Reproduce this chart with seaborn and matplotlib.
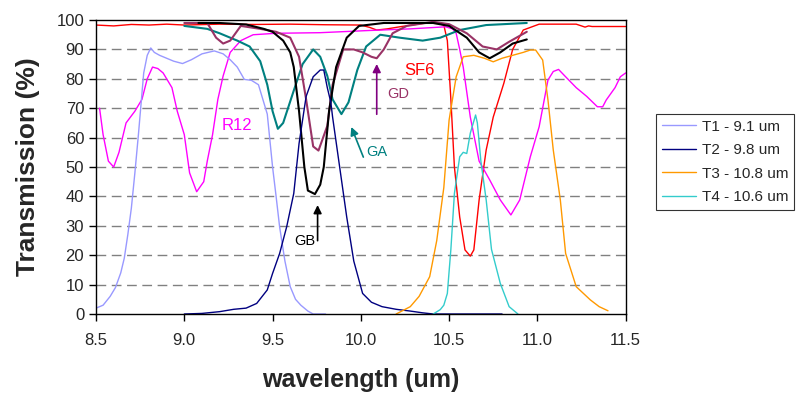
import seaborn as sns
import matplotlib.pyplot as plt

# transmission curves (wavelength in um, transmission in %)
t1_wl = [8.50, 8.54, 8.58, 8.61, 8.64, 8.66, 8.68, 8.70, 8.72, 8.74, 8.77, 8.79, 8.81, 8.83, 8.86,
         8.90, 8.94, 8.99, 9.04, 9.10, 9.17, 9.22, 9.26, 9.30, 9.34, 9.38, 9.42, 9.45, 9.47, 9.50,
         9.52, 9.54, 9.57, 9.60, 9.63, 9.66, 9.70, 9.73, 9.80]
t1 = [2, 3, 6, 9, 14, 19, 27, 36, 48, 61, 82, 88, 90.5, 89, 88,
      87, 86, 85.2, 86.5, 88.5, 89.5, 88.5, 86.5, 84, 79.8, 79.5, 78, 72, 68, 50,
      40, 29.6, 18, 9.3, 5, 3, 1, 0, 0]

t2_wl = [9.00, 9.10, 9.20, 9.28, 9.35, 9.41, 9.47, 9.50, 9.54, 9.58, 9.62, 9.65, 9.69, 9.73, 9.77,
         9.79, 9.81, 9.83, 9.84, 9.88, 9.92, 9.96, 10.01, 10.06, 10.12, 10.20, 10.28, 10.35, 10.41,
         10.60, 10.80]
t2 = [0, 0.2, 0.8, 1.6, 2, 3.6, 8.2, 13.8, 20.6, 29.7, 41, 58, 74, 80.7, 83,
      83, 77, 72, 67, 50, 33, 18, 7, 4, 2.5, 1.6, 1, 0.4, 0,
      0, 0]

t3_wl = [10.20, 10.28, 10.33, 10.39, 10.43, 10.47, 10.50, 10.54, 10.58, 10.64, 10.70, 10.75, 10.80,
         10.86, 10.92, 10.96, 10.99, 11.03, 11.06, 11.09, 11.13, 11.16, 11.22, 11.30, 11.35, 11.40]
t3 = [0, 2.5, 6, 12.7, 25, 43, 66, 80.7, 87.5, 88, 87, 85.8, 87,
      88, 89, 89.8, 89.8, 86.4, 72.8, 55.8, 38.8, 20.6, 9.3, 4.8, 2.5, 1.1]

t4_wl = [10.41, 10.45, 10.47, 10.49, 10.51, 10.53, 10.56, 10.58, 10.60, 10.62, 10.65, 10.66, 10.68,
         10.71, 10.74, 10.79, 10.84, 10.89]
t4 = [0, 1.5, 3, 7, 22, 41, 53.5, 55, 54.6, 61.5, 67.7, 65, 52,
      38.8, 22, 10.4, 2.5, 0]

r12_wl = [8.52, 8.54, 8.57, 8.60, 8.63, 8.65, 8.67, 8.72, 8.76, 8.79, 8.82, 8.85, 8.88, 8.93, 8.96,
          9.00, 9.03, 9.07, 9.11, 9.13, 9.16, 9.19, 9.22, 9.26, 9.32, 9.39, 9.52, 9.77, 10.03, 10.28,
          10.48, 10.52, 10.54, 10.56, 10.58, 10.62, 10.67, 10.73, 10.79, 10.85, 10.90, 10.96, 11.01,
          11.06, 11.09, 11.12, 11.16, 11.22, 11.28, 11.34, 11.37, 11.39, 11.44, 11.47, 11.50]
r12 = [70, 61, 52, 50, 55, 60, 65, 69, 73, 80, 84, 83.5, 82, 77, 69,
       61, 48, 41.6, 45, 52, 61, 73, 81, 89, 93, 95, 95.5, 95.7, 96.4, 97,
       97.7, 97, 95.5, 90, 84, 67, 52, 45.6, 38.8, 33.7, 38.8, 53.5, 63.7,
       79.6, 82.5, 83.2, 80.7, 77, 74, 70.5, 70.5, 72.8, 77, 80.7, 82]

sf6_wl = [8.50, 8.60, 8.70, 8.80, 8.90, 9.00, 9.20, 9.40, 9.60, 9.80, 10.00, 10.05, 10.09, 10.15,
          10.22, 10.30, 10.37, 10.44, 10.47, 10.49, 10.51, 10.53, 10.56, 10.59, 10.62, 10.64, 10.67,
          10.71, 10.75, 10.81, 10.86, 10.92, 11.01, 11.10, 11.22, 11.25, 11.27, 11.29, 11.31, 11.40, 11.50]
sf6 = [98.3, 98.0, 98.5, 98.3, 98.6, 98.3, 98.6, 98.5, 98.6, 98.4, 98.3, 97.5, 96.6, 97.0,
       97.7, 98.4, 99, 98.8, 98.3, 93, 73, 50, 33, 21.8, 19.7, 21.8, 38.8,
       55.8, 67, 78.5, 90, 96.6, 98.6, 98.6, 98.6, 98.0, 97.6, 98.0, 97.8, 97.8, 97.8]

gb_wl = [9.08, 9.20, 9.35, 9.45, 9.50, 9.56, 9.60, 9.62, 9.65, 9.68, 9.70, 9.74, 9.77, 9.79, 9.82,
         9.86, 9.92, 9.99, 10.13, 10.41, 10.50, 10.60, 10.67, 10.73, 10.79, 10.86, 10.94]
gb = [99, 99, 98.5, 97, 96, 93, 89, 84, 69, 50, 42, 40.8, 44, 50, 69,
      84, 94, 98, 99, 99, 98, 94, 89, 87, 89, 92, 93.4]

gd_wl = [9.00, 9.13, 9.18, 9.22, 9.26, 9.32, 9.43, 9.52, 9.60, 9.65, 9.69, 9.73, 9.76, 9.81, 9.84,
         9.90, 9.96, 10.01, 10.06, 10.09, 10.13, 10.18, 10.26, 10.41, 10.50, 10.60, 10.69, 10.77,
         10.84, 10.94]
gd = [99, 99, 94, 92, 93, 98, 97, 96, 94, 87.5, 73, 57, 55.6, 64, 78,
      90, 90, 89, 87.5, 87, 90, 95.5, 98, 99.4, 98.6, 95.5, 91, 90,
      92.6, 96]

ga_wl = [9.00, 9.13, 9.20, 9.30, 9.37, 9.43, 9.47, 9.50, 9.53, 9.56, 9.62, 9.67, 9.73, 9.77, 9.81,
         9.84, 9.89, 9.93, 9.98, 10.03, 10.11, 10.22, 10.35, 10.45, 10.56, 10.71, 10.94]
ga = [98, 97, 95.5, 93, 91, 86, 78, 69, 63, 65, 76, 85, 90, 87.5, 81,
      73, 68, 72, 83, 91, 95, 94, 93, 94, 96.6, 98.3, 99]

filter_labels = ['T1 - 9.1 um', 'T2 - 9.8 um', 'T3 - 10.8 um', 'T4 - 10.6 um']
x_ticks = [8.5, 9.0, 9.5, 10.0, 10.5, 11.0, 11.5]
y_ticks = [0, 10, 20, 30, 40, 50, 60, 70, 80, 90, 100]

sns.set_style('white')
plt.rcParams['font.family'] = ['Liberation Sans', 'DejaVu Sans']

fig, ax = plt.subplots(figsize=(7.97, 3.93), dpi=100)
fig.subplots_adjust(left=0.1205, right=0.785, bottom=0.201, top=0.949)

# gas absorption curves
sns.lineplot(x=sf6_wl, y=sf6, color='#FF0000', lw=1.0, ax=ax, errorbar=None)
sns.lineplot(x=r12_wl, y=r12, color='#FF00FF', lw=1.0, ax=ax, errorbar=None)
sns.lineplot(x=ga_wl, y=ga, color='#008080', lw=1.5, ax=ax, errorbar=None)
sns.lineplot(x=gd_wl, y=gd, color='#993366', lw=1.5, ax=ax, errorbar=None)
sns.lineplot(x=gb_wl, y=gb, color='#000000', lw=1.5, ax=ax, errorbar=None)

# filter curves (legend entries)
filter_colors = ['#9999FF', '#000080', '#FF9900', '#33CCCC']
for wl, t, c, lab in zip([t1_wl, t2_wl, t3_wl, t4_wl], [t1, t2, t3, t4], filter_colors, filter_labels):
    sns.lineplot(x=wl, y=t, color=c, lw=1.0, ax=ax, errorbar=None, label=lab)

ax.set_xlim(8.5, 11.5)
ax.set_ylim(0, 100)
ax.set_xticks(x_ticks)
ax.set_xticklabels([f'{v:.1f}' for v in x_ticks])
ax.set_yticks(y_ticks)
ax.tick_params(axis='both', labelsize=12, direction='out', length=5, width=1, color='black',
               left=True, bottom=True)
ax.tick_params(axis='x', pad=9)
for y in y_ticks[1:-1]:
    ax.axhline(y, color='#808080', lw=1, ls=(0, (7, 4)), zorder=0)
for s in ax.spines.values():
    s.set_color('black')
    s.set_linewidth(1)

ax.set_xlabel('wavelength (um)', fontsize=18, fontweight='bold', labelpad=14)
ax.set_ylabel('Transmission (%)', fontsize=19, fontweight='bold', labelpad=12)

# annotations
ax.text(9.30, 64, 'R12', color='#FF00FF', fontsize=12, ha='center', va='center')
ax.text(10.33, 83, 'SF6', color='#FF0000', fontsize=12, ha='center', va='center')
ax.annotate('', xy=(9.755, 38), xytext=(9.755, 24),
            arrowprops=dict(arrowstyle='-|>', color='black', lw=1.2, mutation_scale=12))
ax.text(9.74, 25, 'GB', color='black', fontsize=10.5, ha='right', va='center')
ax.annotate('', xy=(10.09, 86), xytext=(10.09, 67),
            arrowprops=dict(arrowstyle='-|>', color='#800080', lw=1.2, mutation_scale=12))
ax.text(10.15, 75, 'GD', color='#993366', fontsize=10.5, ha='left', va='center')
ax.annotate('', xy=(9.94, 64.5), xytext=(10.02, 52.5),
            arrowprops=dict(arrowstyle='-|>', color='#008080', lw=1.2, mutation_scale=12))
ax.text(10.03, 55, 'GA', color='#008080', fontsize=10.5, ha='left', va='center')

leg = ax.legend(loc='center left', bbox_to_anchor=(1.057, 0.517), borderaxespad=0, fontsize=11,
                frameon=True, fancybox=False, edgecolor='black', handlelength=2.2, borderpad=0.4,
                labelspacing=0.62, handletextpad=0.4)
leg.get_frame().set_linewidth(0.8)

fig.savefig('out.png', dpi=100)
